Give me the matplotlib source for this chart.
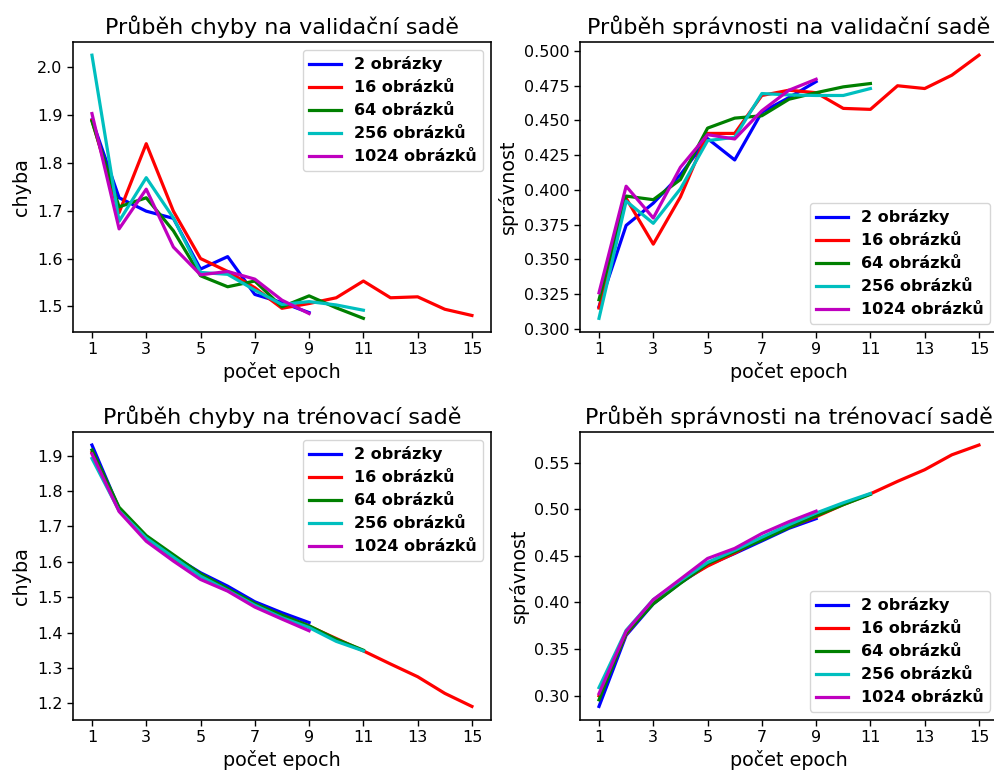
import numpy as np
import matplotlib
matplotlib.use("Agg")
from matplotlib import pyplot as plt

labels = ["2 obrázky", "16 obrázků", "64 obrázků", "256 obrázků", "1024 obrázků"]
colors = ["b", "r", "g", "c", "m"]

# validační sada - chyba
val_loss_2 = [1.890, 1.727, 1.699, 1.684, 1.578, 1.604, 1.525, 1.508, 1.487]
val_loss_16 = [1.889, 1.696, 1.840, 1.699, 1.600, 1.573, 1.539, 1.496, 1.506,
               1.518, 1.553, 1.518, 1.520, 1.494, 1.481]
val_loss_64 = [1.887, 1.708, 1.727, 1.658, 1.564, 1.541, 1.553, 1.499, 1.522,
               1.497, 1.475]
val_loss_256 = [2.025, 1.678, 1.769, 1.685, 1.571, 1.567, 1.534, 1.504, 1.510,
                1.503, 1.492]
val_loss_1024 = [1.903, 1.662, 1.745, 1.624, 1.566, 1.573, 1.557, 1.513, 1.485]

# validační sada - správnost
val_acc_2 = [0.316, 0.3745, 0.3905, 0.411, 0.437, 0.4216, 0.456, 0.4665, 0.478]
val_acc_16 = [0.315, 0.394, 0.361, 0.395, 0.4407, 0.4407, 0.468, 0.4718, 0.470,
              0.4587, 0.458, 0.475, 0.473, 0.4826, 0.497]
val_acc_64 = [0.321, 0.3956, 0.393, 0.4075, 0.4445, 0.4517, 0.4534, 0.4653,
              0.470, 0.4742, 0.4766]
val_acc_256 = [0.3076, 0.392, 0.376, 0.4008, 0.4355, 0.4379, 0.4694, 0.4684,
               0.468, 0.468, 0.473]
val_acc_1024 = [0.326, 0.4027, 0.3798, 0.4163, 0.4398, 0.4367, 0.457, 0.4718,
                0.4797]

# trénovací sada - chyba
train_loss_2 = [1.930, 1.750, 1.672, 1.616, 1.569, 1.531, 1.487, 1.456, 1.428]
train_loss_16 = [1.909, 1.750, 1.665, 1.610, 1.563, 1.522, 1.480, 1.448, 1.418,
                 1.383, 1.348, 1.311, 1.275, 1.228, 1.191]
train_loss_64 = [1.916, 1.754, 1.674, 1.620, 1.566, 1.524, 1.482, 1.449, 1.419,
                 1.381, 1.350]
train_loss_256 = [1.892, 1.744, 1.667, 1.613, 1.559, 1.519, 1.477, 1.442, 1.414,
                  1.375, 1.348]
train_loss_1024 = [1.905, 1.742, 1.658, 1.602, 1.550, 1.517, 1.472, 1.438, 1.405]

# trénovací sada - správnost
train_acc_2 = [0.2883, 0.3647, 0.3985, 0.421, 0.440, 0.4526, 0.466, 0.4796, 0.490]
train_acc_16 = [0.2997, 0.366, 0.401, 0.422, 0.439, 0.453, 0.469, 0.481, 0.492,
                0.505, 0.5166, 0.530, 0.5425, 0.5585, 0.569]
train_acc_64 = [0.2954, 0.367, 0.3985, 0.4205, 0.4415, 0.4545, 0.467, 0.4805,
                0.493, 0.505, 0.516]
train_acc_256 = [0.3085, 0.370, 0.403, 0.4235, 0.443, 0.456, 0.470, 0.4835,
                 0.496, 0.507, 0.517]
train_acc_1024 = [0.302, 0.369, 0.403, 0.425, 0.4472, 0.458, 0.474, 0.4867, 0.498]

panels = [
    ("Průběh chyby na validační sadě", "chyba",
     [val_loss_2, val_loss_16, val_loss_64, val_loss_256, val_loss_1024]),
    ("Průběh správnosti na validační sadě", "správnost",
     [val_acc_2, val_acc_16, val_acc_64, val_acc_256, val_acc_1024]),
    ("Průběh chyby na trénovací sadě", "chyba",
     [train_loss_2, train_loss_16, train_loss_64, train_loss_256, train_loss_1024]),
    ("Průběh správnosti na trénovací sadě", "správnost",
     [train_acc_2, train_acc_16, train_acc_64, train_acc_256, train_acc_1024]),
]

# pozice os [left, bottom, width, height] ve zlomcích obrázku
positions = [
    [0.0734, 0.5717, 0.4205, 0.3740],
    [0.5835, 0.5717, 0.4205, 0.3740],
    [0.0734, 0.0704, 0.4205, 0.3715],
    [0.5835, 0.0704, 0.4205, 0.3715],
]

plt.rcParams["xtick.labelsize"] = 11.5
plt.rcParams["ytick.labelsize"] = 11.5
plt.rcParams["axes.linewidth"] = 1.15
plt.rcParams["xtick.major.width"] = 1.0
plt.rcParams["ytick.major.width"] = 1.0
plt.rcParams["xtick.major.size"] = 4.0
plt.rcParams["ytick.major.size"] = 4.0

fig, axes = plt.subplots(2, 2, figsize=(9.94, 7.74), dpi=100)
for ax, pos, (title, ylabel, series) in zip(axes.flat, positions, panels):
    for values, label, color in zip(series, labels, colors):
        epochs = np.arange(1, len(values) + 1)
        ax.plot(epochs, values, color=color, linewidth=2.3, label=label)
    ax.set_title(title, fontsize=16)
    ax.set_xlabel("počet epoch", fontsize=13.8)
    ax.set_ylabel(ylabel, fontsize=13.8)
    ax.set_xticks(np.arange(1, 16, 2))
    ax.legend(loc="best", prop={"weight": "bold", "size": 11.5})
    ax.set_position(pos)

plt.savefig("out.png")
